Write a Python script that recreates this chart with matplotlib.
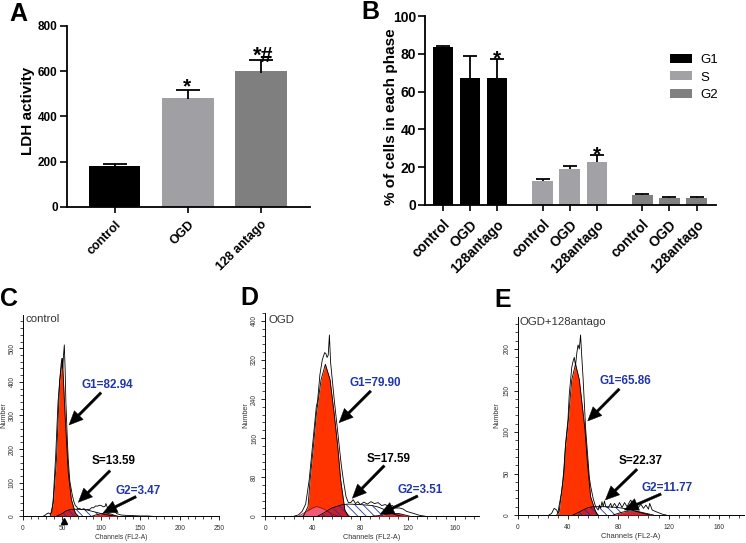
import matplotlib
matplotlib.use("Agg")
import matplotlib.pyplot as plt
from matplotlib.ticker import MultipleLocator

plt.rcParams['font.family'] = ['Liberation Sans', 'DejaVu Sans']
plt.rcParams['hatch.linewidth'] = 0.6

W, H = 746, 543

# ---------- data ----------
a_labels = ['control', 'OGD', '128 antago']
a_values = [179, 481, 599]
a_tops = [190, 516, 649]
a_colors = ['#000000', '#a0a0a4', '#7f7f7f']

b_labels = ['control', 'OGD', '128antago'] * 3
b_groups = ['G1', 'S', 'G2']
b_g1 = [83.5, 67, 67]
b_s = [12.5, 19, 22.5]
b_g2 = [5.5, 3.5, 3.7]
b_g1_top = [84, 79, 77]
b_s_top = [13.5, 20.5, 26.5]
b_g2_top = [6, 4, 4]
b_pos = [0, 1, 2, 3.69, 4.69, 5.7, 7.38, 8.38, 9.4]

c_g1_x = [35, 39, 43, 47, 50.5, 54, 58, 62, 67, 71]
c_g1_y = [0, 40, 170, 400, 470, 300, 130, 50, 10, 0]
c_s_x = [43, 50, 56, 62, 68, 80, 90, 100, 110, 120]
c_s_y = [0, 8, 17, 21, 21, 20, 14, 8, 3, 0]
c_g2_x = [88, 93, 100, 106, 112, 118, 122]
c_g2_y = [0, 4, 8, 10, 7, 2, 0]
c_out_x = [26, 29, 31, 33, 35, 37, 39, 42, 45, 47, 49, 50, 51, 52, 53, 54, 55, 57, 58, 60, 63, 65, 67, 69, 70, 72, 75,
           78, 80, 83, 85, 88, 90, 93, 95, 98, 100, 103, 105, 106, 108, 110, 112, 116, 120, 125, 130, 140, 150, 160, 165]
c_out_y = [0, 4, 8, 10, 6, 12, 55, 180, 340, 400, 455, 470, 440, 480, 510, 440, 340, 220, 170, 105, 65, 45, 32, 28, 22,
           24, 20, 23, 18, 21, 20, 26, 25, 31, 30, 33, 32, 28, 30, 38, 25, 28, 25, 15, 8, 4, 3, 2, 1, 1, 0]

d_g1_x = [32, 36, 37.7, 40.5, 43, 47, 50.6, 52, 54.5, 58, 61, 63.5, 67, 70]
d_g1_y = [0, 20, 74, 143, 210, 280, 311, 300, 280, 210, 143, 74, 13, 0]
d_p_x = [28, 32, 36, 40, 43, 46, 50, 54, 58, 62]
d_p_y = [0, 6, 12, 17, 20, 18, 14, 8, 3, 0]
d_s_x = [44, 50, 56, 60, 65, 70, 80, 90, 95, 100, 105, 110, 115]
d_s_y = [0, 8, 17, 20, 24, 25, 24, 22, 19, 14, 7, 3, 0]
d_g2_x = [90, 97, 105, 112, 117, 122]
d_g2_y = [0, 2, 5, 6, 3, 0]
d_out_x = [24, 28, 31, 34, 37, 40, 43, 44, 46, 48, 50, 51, 52, 53, 54, 55, 56, 58, 60, 62, 64, 66, 68, 70, 72, 74, 76,
           78, 80, 83, 86, 89, 92, 95, 98, 101, 104, 107, 110, 113, 116, 119, 122, 126, 130, 135]
d_out_y = [0, 3, 10, 25, 75, 150, 225, 235, 290, 320, 335, 333, 325, 330, 371, 315, 290, 240, 195, 150, 105, 70, 40, 28,
           28, 34, 26, 30, 24, 29, 25, 30, 26, 28, 22, 24, 20, 22, 17, 17, 15, 10, 8, 5, 2, 0]

e_g1_x = [31, 33, 36, 38, 40, 43, 46, 49, 53.5, 55.5, 58, 61.5, 63.5]
e_g1_y = [0, 4, 42, 82, 110, 163, 182, 163, 103, 62, 22, 6, 0]
e_s_x = [44, 48, 52, 56, 60, 70, 80, 88, 95, 100, 105]
e_s_y = [0, 3, 6, 9, 10, 10, 9, 7, 4, 2, 0]
e_g2_x = [76, 82, 88, 95, 102, 108]
e_g2_y = [0, 3, 5, 4.5, 2, 0]
e_out_x = [25, 27, 29, 31, 32, 33, 35, 37, 38, 40, 41, 43, 44, 45, 46, 47, 48, 49, 50, 51, 52, 53, 54, 55, 56, 57, 58,
           60, 62, 64, 65, 66, 67, 68, 69, 70, 72, 74, 75, 77, 79, 81, 83, 85, 87, 89, 90, 92, 94, 96, 98, 100, 102,
           104, 105, 107, 110, 115, 118]
e_out_y = [0, 2, 8, 6, 2, 12, 28, 55, 85, 115, 145, 178, 185, 190, 180, 195, 205, 200, 217, 190, 165, 135, 105, 85, 65,
           45, 35, 20, 10, 6, 12, 8, 16, 10, 17, 10, 9, 14, 9, 14, 9, 15, 9, 15, 10, 16, 18, 10, 14, 9, 13, 8, 12,
           7, 14, 6, 4, 1, 0]

RED = '#ff3300'
DARK = '#c9202c'
PINK = '#ee5a78'
BLUE = '#1f35a8'
GRAY = '#333333'

fig = plt.figure(figsize=(W / 100, H / 100), dpi=100, facecolor='white')


def axes_px(x0, x1, ytop, ybot):
    ax = fig.add_axes([x0 / W, 1 - ybot / H, (x1 - x0) / W, (ybot - ytop) / H])
    ax.patch.set_alpha(0)
    ax.spines['top'].set_visible(False)
    ax.spines['right'].set_visible(False)
    return ax


def ftext(x, y, s, **kw):
    kw.setdefault('ha', 'center')
    kw.setdefault('va', 'center')
    fig.text(x / W, 1 - y / H, s, **kw)


def arrow(x0, y0, x1, y1):
    fig.add_artist(matplotlib.patches.FancyArrowPatch(
        (x0 / W, 1 - y0 / H), (x1 / W, 1 - y1 / H), transform=fig.transFigure,
        arrowstyle='simple,head_width=9,head_length=10,tail_width=1.8',
        facecolor='black', edgecolor='black', linewidth=0.3, shrinkA=0, shrinkB=0, zorder=10))


def upper_err(ax, x, base, top, capsize):
    _, caps, _ = ax.errorbar(x, base, yerr=[[0], [top - base]], color='black', capsize=capsize,
                             elinewidth=1.3, capthick=1.3, zorder=3)
    caps[0].set_visible(False)


for letter, x, y in [('A', 18, 14), ('B', 370, 12), ('C', 9, 299), ('D', 249, 298), ('E', 503, 300)]:
    ftext(x, y, letter, fontsize=18, fontweight='bold', color='black')

# ---------- panel A ----------
axA = axes_px(66.7, 310, 26, 206.7)
axA.bar(range(3), a_values, width=0.70, color=a_colors)
for i, (v, t) in enumerate(zip(a_values, a_tops)):
    upper_err(axA, i, v - 6, t, 8.5)
axA.set_xlim(-0.66, 2.67)
axA.set_ylim(0, 800)
axA.set_yticks([0, 200, 400, 600, 800])
axA.set_xticks(range(3))
axA.set_xticklabels(a_labels, rotation=45, ha='right', rotation_mode='anchor',
                    fontsize=9, fontweight='bold')
axA.tick_params(axis='y', labelsize=8.5, width=1.2, length=5, pad=1.5)
axA.tick_params(axis='x', width=1.2, length=4, pad=4.5)
for l in axA.get_yticklabels():
    l.set_fontweight('bold')
for s in ('left', 'bottom'):
    axA.spines[s].set_linewidth(1.3)
ftext(28, 111, 'LDH activity', fontsize=11, fontweight='bold', rotation=90)
ftext(187, 87, '*', fontsize=15, fontweight='bold')
ftext(263, 56, '*#', fontsize=15.5, fontweight='bold')

# ---------- panel B ----------
axB = axes_px(425, 715.7, 16, 205)
colB = ['#000000', '#a2a2a6', '#808080']
series = [(b_g1, b_g1_top), (b_s, b_s_top), (b_g2, b_g2_top)]
for g, (vals, tops) in enumerate(series):
    pos = b_pos[g * 3:g * 3 + 3]
    axB.bar(pos, vals, width=0.765, color=colB[g], label=b_groups[g])
    for p, v, t in zip(pos, vals, tops):
        upper_err(axB, p, v, t, 5)
axB.set_xlim((425 - 443) / 27, (715.7 - 443) / 27)
axB.set_ylim(0, 100)
axB.set_yticks([0, 20, 40, 60, 80, 100])
axB.set_xticks(b_pos)
axB.set_xticklabels(b_labels, rotation=45, ha='right', rotation_mode='anchor',
                    fontsize=10, fontweight='bold')
axB.tick_params(axis='y', labelsize=10, width=1.2, length=5, pad=1.5)
axB.tick_params(axis='x', width=1.2, length=4, pad=5)
for l in axB.get_yticklabels():
    l.set_fontweight('bold')
for s in ('left', 'bottom'):
    axB.spines[s].set_linewidth(1.3)
ftext(390.7, 116.7, '% of cells in each phase', fontsize=11, fontweight='bold', rotation=90)
ftext(497, 59, '*', fontsize=15, fontweight='bold')
ftext(596.7, 155, '*', fontsize=15, fontweight='bold')
axB.legend(loc='upper left', bbox_to_anchor=(670 / W, 1 - 54 / H), bbox_transform=fig.transFigure,
           frameon=False, fontsize=9.5, handlelength=1.64, handleheight=0.68,
           labelspacing=0.4, handletextpad=0.63, borderpad=0, borderaxespad=0)


# ---------- histograms ----------
def hist(box, xlim, ylim, xmaj, xmin, ymaj, ymin, g1, s, g2, out, pink=None, name='', name_xy=(0, 0)):
    ax = axes_px(*box)
    ax.set_xlim(*xlim)
    ax.set_ylim(*ylim)
    g1p = ax.fill_between(g1[0], g1[1], color=RED, linewidth=0, zorder=2)
    clip = g1p.get_paths()[0]
    if pink is not None:
        ax.fill_between(pink[0], pink[1], color=PINK, linewidth=0, zorder=2.5)
        ax.plot(pink[0], pink[1], color='#7a1020', lw=0.5, zorder=4)
    dark = ax.fill_between(s[0], s[1], color=DARK, linewidth=0, zorder=3)
    dark.set_clip_path(clip, ax.transData)
    ax.fill_between(s[0], s[1], facecolor='none', edgecolor=BLUE, hatch='\\\\\\\\', linewidth=0, zorder=3.2)
    ax.fill_between(g2[0], g2[1], color='#d8242c', linewidth=0, zorder=3.4)
    ax.plot(g1[0], g1[1], color='black', lw=0.6, zorder=4)
    ax.plot(s[0], s[1], color='black', lw=0.6, zorder=4)
    ax.plot(g2[0], g2[1], color='black', lw=0.6, zorder=4)
    ax.plot(out[0], out[1], color='black', lw=0.6, zorder=5)
    ax.xaxis.set_major_locator(MultipleLocator(xmaj))
    ax.xaxis.set_minor_locator(MultipleLocator(xmin))
    ax.yaxis.set_major_locator(MultipleLocator(ymaj))
    ax.yaxis.set_minor_locator(MultipleLocator(ymin))
    ax.tick_params(which='major', length=3.2, width=0.6, labelsize=4.8, labelcolor=GRAY)
    ax.tick_params(which='minor', length=2, width=0.5)
    ax.tick_params(axis='x', which='major', pad=3)
    ax.tick_params(axis='y', which='major', pad=2)
    for l in ax.get_yticklabels():
        l.set_rotation(90)
        l.set_va('center')
    for sp in ('left', 'bottom'):
        ax.spines[sp].set_linewidth(0.7)
    ftext(name_xy[0], name_xy[1], name, fontsize=8.2, color=GRAY, ha='left')
    return ax


axC = hist((22.7, 219, 315, 516.3), (0, 250), (0, 599), 50, 10, 100, 20,
           (c_g1_x, c_g1_y), (c_s_x, c_s_y), (c_g2_x, c_g2_y), (c_out_x, c_out_y),
           name='control', name_xy=(25.5, 319))
axC.plot([52], [-13], marker='^', color='black', ms=4, clip_on=False, linestyle='none')
axD = hist((265.3, 479, 313, 516.3), (0, 180), (0, 416), 40, 8, 80, 16,
           (d_g1_x, d_g1_y), (d_s_x, d_s_y), (d_g2_x, d_g2_y), (d_out_x, d_out_y),
           pink=(d_p_x, d_p_y), name='OGD', name_xy=(268.5, 320))
axE = hist((517.7, 744, 316.7, 515), (0, 180), (0, 239), 40, 8, 50, 10,
           (e_g1_x, e_g1_y), (e_s_x, e_s_y), (e_g2_x, e_g2_y), (e_out_x, e_out_y),
           name='OGD+128antago', name_xy=(519, 322))

for x, y in [(4, 415), (246, 415), (497, 415)]:
    ftext(x, y, 'Number', fontsize=5.2, rotation=90, color=GRAY)
for x, y, s, fs in [(121, 537.5, 'Channels (FL2-A)', 4.8), (372, 537.5, 'Channels (FL2-A)', 5.2),
                    (631, 536.5, 'Channels (FL2-A)', 5.4)]:
    ftext(x, y, s, fontsize=fs, color=GRAY)

labels = [(107, 384.5, 'G1=82.94', BLUE), (114, 461, 'S=13.59', 'black'), (138, 491, 'G2=3.47', BLUE),
          (375, 382.5, 'G1=79.90', BLUE), (389, 459, 'S=17.59', 'black'), (420, 490, 'G2=3.51', BLUE),
          (625, 381, 'G1=65.86', BLUE), (641, 461, 'S=22.37', 'black'), (667, 488, 'G2=11.77', BLUE)]
for x, y, s, c in labels:
    ftext(x, y, s, fontsize=8.4, fontweight='bold', color=c, zorder=11)

arrows = [(101, 392.7, 69, 425), (110, 470.7, 78.3, 502.3), (136, 496.7, 103, 513),
          (370.7, 391, 339, 422.7), (384.3, 465.7, 352.3, 498.3), (417.7, 496, 380, 514.3),
          (619.3, 389, 587.7, 421), (637, 469.3, 605.3, 500), (661, 494, 624.3, 510)]
for a in arrows:
    arrow(*a)

fig.savefig('out.png', dpi=100)
